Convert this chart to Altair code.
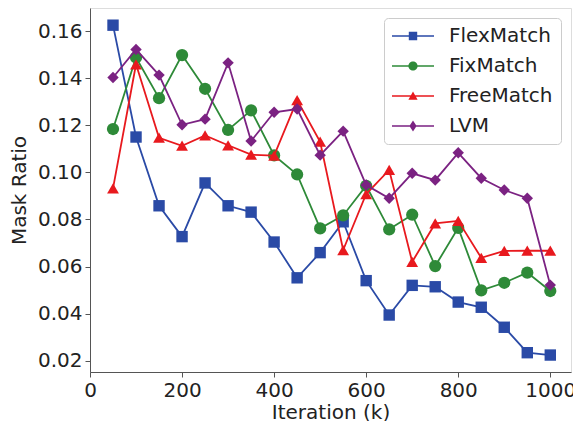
import altair as alt
import pandas as pd

iterations = [50, 100, 150, 200, 250, 300, 350, 400, 450, 500,
              550, 600, 650, 700, 750, 800, 850, 900, 950, 1000]
flexmatch = [0.1625, 0.115, 0.0858, 0.0727, 0.0955, 0.0858, 0.0831, 0.0704, 0.0552, 0.0659,
             0.079, 0.054, 0.0394, 0.052, 0.0514, 0.0449, 0.0427, 0.0342, 0.0234, 0.0224]
fixmatch = [0.1184, 0.1488, 0.1315, 0.1498, 0.1355, 0.118, 0.1263, 0.1072, 0.0991, 0.0762,
            0.0817, 0.0943, 0.0758, 0.082, 0.0602, 0.0764, 0.0499, 0.0531, 0.0574, 0.0496]
freematch = [0.0932, 0.1459, 0.1147, 0.1113, 0.1157, 0.1115, 0.1075, 0.1071, 0.1307, 0.113,
             0.067, 0.0908, 0.101, 0.062, 0.0783, 0.0794, 0.0637, 0.0666, 0.0667, 0.0667]
lvm = [0.1403, 0.1522, 0.1413, 0.1202, 0.1226, 0.1465, 0.1133, 0.1255, 0.1269, 0.1073,
       0.1175, 0.0946, 0.089, 0.0996, 0.0967, 0.1083, 0.0975, 0.0925, 0.089, 0.0521]

series_names = ["FlexMatch", "FixMatch", "FreeMatch", "LVM"]
series_values = [flexmatch, fixmatch, freematch, lvm]
colors = ["#2a4aa6", "#2e8a38", "#e8191e", "#7b2282"]
marker_shapes = ["square", "circle", "triangle-up", "diamond"]
y_ticks = [0.02, 0.04, 0.06, 0.08, 0.10, 0.12, 0.14, 0.16]
x_ticks = [0, 200, 400, 600, 800, 1000]

rows = []
for name, vals in zip(series_names, series_values):
    for it, v in zip(iterations, vals):
        rows.append({"series": name, "iteration": it, "ratio": v})
df = pd.DataFrame(rows)

FONT = "DejaVu Sans"
FS = 20

x_enc = alt.X("iteration:Q",
              scale=alt.Scale(domain=[0, 1045], nice=False, zero=False),
              axis=alt.Axis(values=x_ticks, format="d", title="Iteration (k)", grid=False,
                            labelFontSize=FS, titleFontSize=FS, labelFont=FONT, titleFont=FONT,
                            labelColor="#222", titleColor="#222", domainColor="#555",
                            tickColor="#555", tickSize=5, labelPadding=3, titlePadding=2,
                            titleFontWeight="normal", labelFlush=False))
y_enc = alt.Y("ratio:Q",
              scale=alt.Scale(domain=[0.0152, 0.1698], nice=False, zero=False),
              axis=alt.Axis(values=y_ticks, format=".2f", title="Mask Ratio", grid=False,
                            labelFontSize=FS, titleFontSize=FS, labelFont=FONT, titleFont=FONT,
                            labelColor="#222", titleColor="#222", domainColor="#555",
                            tickColor="#555", tickSize=5, labelPadding=3, titlePadding=8,
                            titleFontWeight="normal", labelFlush=False))

base = alt.Chart(df)

point_sizes = [130, 150, 140, 130]
layers = []
for name, col, shp, sz in zip(series_names, colors, marker_shapes, point_sizes):
    sub = base.transform_filter(alt.datum.series == name)
    layers.append(sub.mark_line(strokeWidth=1.8, color=col).encode(x=x_enc, y=y_enc))
    layers.append(
        sub.mark_point(filled=True, shape=shp, size=sz, opacity=1, color=col)
        .encode(x=x_enc, y=y_enc)
    )

# legend symbols (unit = 10px): a thin bar with a marker in the middle, filled only
bar = "M-1,-0.08L3.2,-0.08L3.2,0.08L-1,0.08Z"
legend_paths = [
    bar + "M0.68,-0.42L1.52,-0.42L1.52,0.42L0.68,0.42Z",
    bar + "M1.56,0A0.46,0.46,0,1,1,0.64,0A0.46,0.46,0,1,1,1.56,0Z",
    bar + "M1.1,-0.46L1.56,0.38L0.64,0.38Z",
    bar + "M1.1,-0.56L1.46,0L1.1,0.56L0.74,0Z",
]
legend_layer = base.transform_filter("false").mark_point(filled=True, opacity=1).encode(
    x=x_enc, y=y_enc,
    fill=alt.Fill("series:N", scale=alt.Scale(domain=series_names, range=colors),
                  legend=alt.Legend(title=None, orient="top-right", offset=10,
                                    labelFontSize=FS, labelFont=FONT, labelColor="#222",
                                    symbolSize=400, symbolStrokeWidth=0, symbolOpacity=1,
                                    rowPadding=10, labelOffset=37,
                                    padding=8, strokeColor="#cccccc", cornerRadius=4,
                                    fillColor="white")),
    shape=alt.Shape("series:N", scale=alt.Scale(domain=series_names, range=legend_paths)),
)
layers.append(legend_layer)

chart = alt.layer(*layers).properties(
    width=481, height=364,
    autosize=alt.AutoSizeParams(type="none"),
    padding={"left": 82, "top": 0, "right": 2, "bottom": 49},
).configure_view(stroke="#555", strokeWidth=1).configure(background="white")

chart.save("out.html", embed_options={"renderer": "svg", "actions": False})
